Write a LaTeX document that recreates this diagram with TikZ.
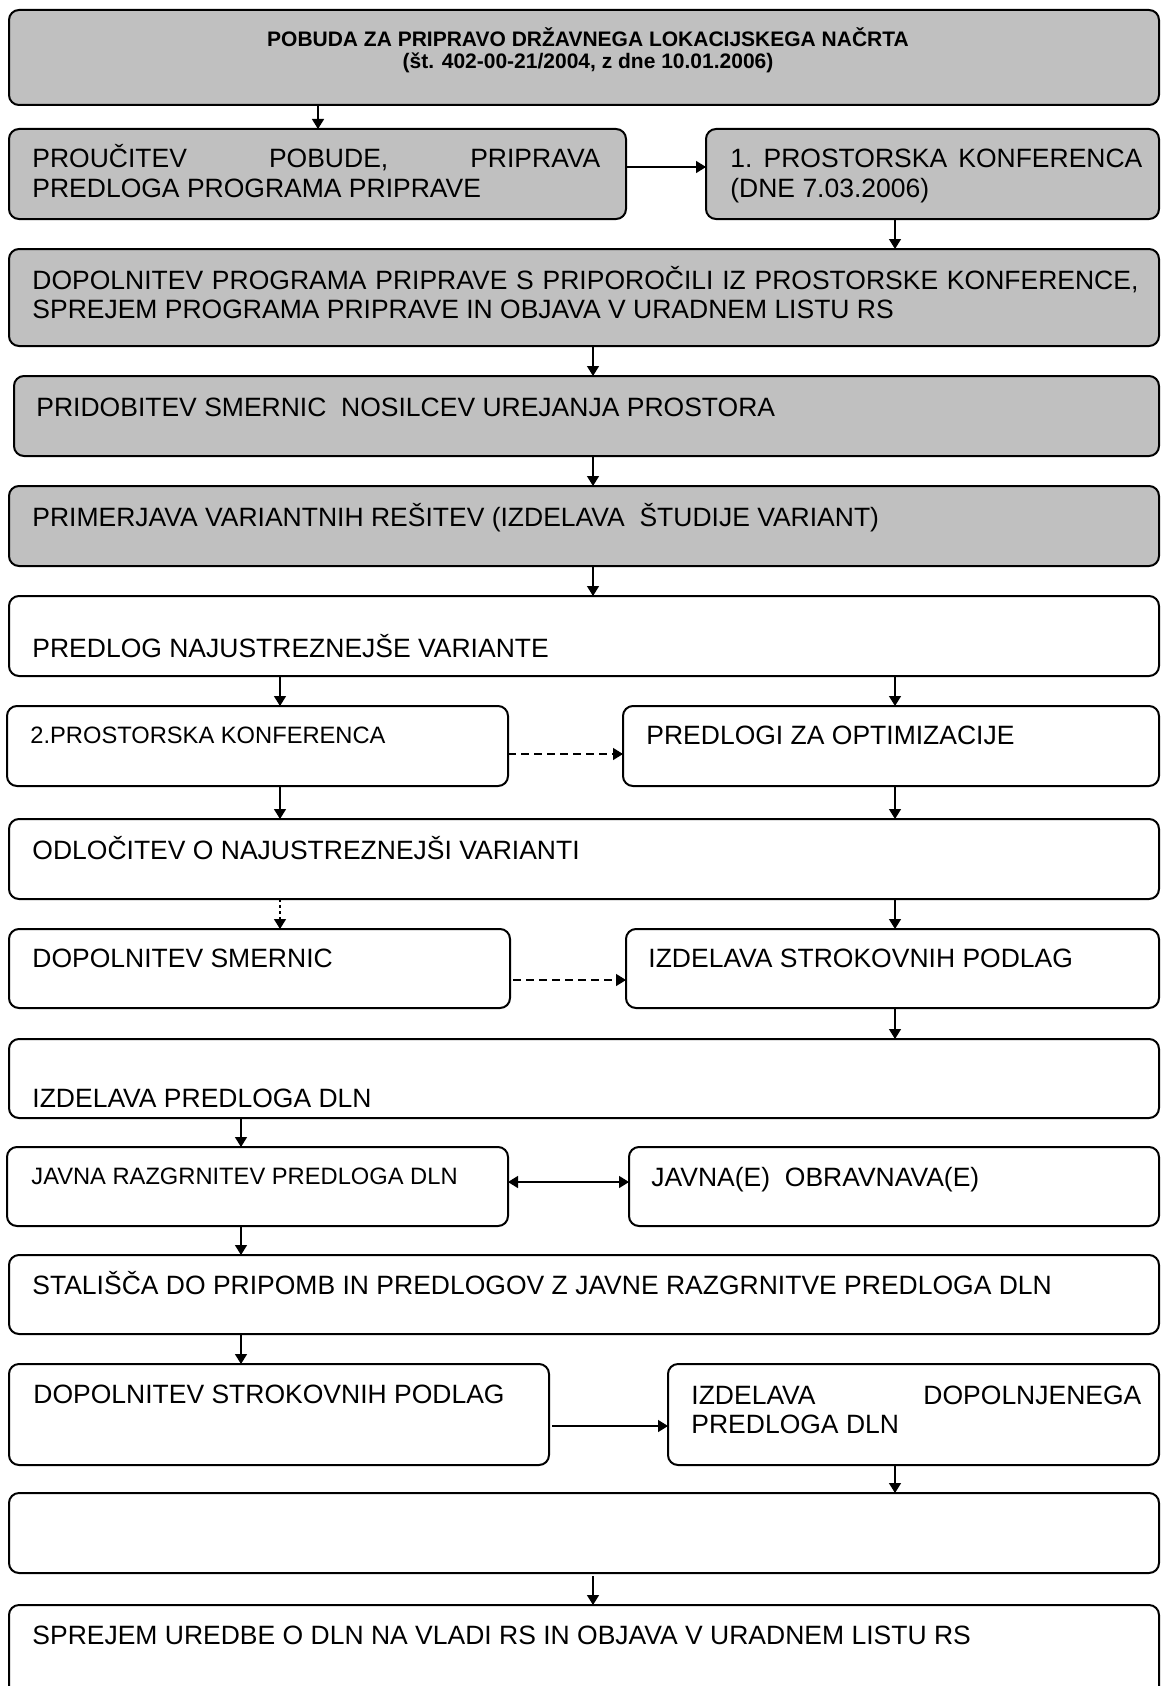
\documentclass[tikz,border=0pt]{standalone}
\usepackage{fontspec}
\setmainfont{Liberation Sans}
\usetikzlibrary{arrows.meta,fit}
\newcommand\twoln[2]{\vtop{\hbox{#1}\hbox{#2}}}
\definecolor{boxgray}{HTML}{C0C0C0}
\tikzset{
  box/.style={draw=black, line width=1pt, rounded corners=5pt, inner sep=0pt, outer sep=0pt},
  gbox/.style={box, fill=boxgray},
  wbox/.style={box, fill=white},
  txt/.style={anchor=base west, inner sep=0pt, font=\fontsize{13.25pt}{14.75pt}\selectfont},
  smalltxt/.style={anchor=base west, inner sep=0pt, font=\fontsize{11.85pt}{13.5pt}\selectfont},
  titletxt/.style={anchor=base, inner sep=0pt, font=\bfseries\fontsize{10.5pt}{10.5pt}\selectfont},
  arr/.style={line width=0.7pt, -{Triangle[length=5pt,width=6pt]}},
  darr/.style={line width=0.7pt, {Triangle[length=5pt,width=6pt]}-{Triangle[length=5pt,width=6pt]}},
  dasharr/.style={arr, dash pattern=on 4pt off 2.5pt},
  dotarr/.style={arr, dash pattern=on 1.5pt off 1.5pt}
}
\begin{document}
\begin{tikzpicture}[x=0.5pt,y=-0.5pt]
\useasboundingbox (0,0) rectangle (1161,1686);
\clip (0,0) rectangle (1161,1686);
% boxes
\node[gbox, fit={(9,10) (1159,105)}] (b1) {};
\node[gbox, fit={(9,129) (626,219)}] (b2) {};
\node[gbox, fit={(706,129) (1159,219)}] (b3) {};
\node[gbox, fit={(9,249) (1159,346)}] (b4) {};
\node[gbox, fit={(14,376) (1159,456)}] (b5) {};
\node[gbox, fit={(9,486) (1159,566)}] (b6) {};
\node[wbox, fit={(9,596) (1159,676)}] (b7) {};
\node[wbox, fit={(7,706) (508,786)}] (b8) {};
\node[wbox, fit={(623,706) (1159,786)}] (b9) {};
\node[wbox, fit={(9,819) (1159,899)}] (b10) {};
\node[wbox, fit={(9,929) (510,1008)}] (b11) {};
\node[wbox, fit={(626,929) (1159,1008)}] (b12) {};
\node[wbox, fit={(9,1039) (1159,1118)}] (b13) {};
\node[wbox, fit={(7,1147) (508,1226)}] (b14) {};
\node[wbox, fit={(629,1147) (1159,1226)}] (b15) {};
\node[wbox, fit={(9,1255) (1159,1334)}] (b16) {};
\node[wbox, fit={(9,1364) (549,1465)}] (b17) {};
\node[wbox, fit={(668,1364) (1159,1465)}] (b18) {};
\node[wbox, fit={(9,1493) (1159,1573)}] (b19) {};
\node[wbox, fit={(9,1605) (1159,1730)}] (b20) {};
% texts
\node[titletxt] (t1) at (588,47) {\vtop{\hbox to 0pt{\hss POBUDA ZA PRIPRAVO DRŽAVNEGA LOKACIJSKEGA NAČRTA\hss}\hbox to 0pt{\hss (št. 402-00-21/2004, z dne 10.01.2006)\hss}}};
\node[txt] (t2) at (32,168) {\twoln{\hbox to 284pt{PROUČITEV\hfill POBUDE,\hfill PRIPRAVA}}{PREDLOGA PROGRAMA PRIPRAVE}};
\node[txt] (t3) at (730,168) {\twoln{\hbox to 206pt{1.\hfil\ PROSTORSKA\hfil\ KONFERENCA}}{(DNE 7.03.2006)}};
\node[txt] (t4) at (32,289) {\twoln{\hbox to 553pt{DOPOLNITEV\hfil\ PROGRAMA\hfil\ PRIPRAVE\hfil\ S\hfil\ PRIPOROČILI\hfil\ IZ\hfil\ PROSTORSKE\hfil\ KONFERENCE,}}{SPREJEM PROGRAMA PRIPRAVE IN OBJAVA V URADNEM LISTU RS}};
\node[txt] (t5) at (36,416) {PRIDOBITEV SMERNIC\ \ NOSILCEV UREJANJA PROSTORA};
\node[txt] (t6) at (32,526) {PRIMERJAVA VARIANTNIH REŠITEV (IZDELAVA\ \ ŠTUDIJE VARIANT)};
\node[txt] (t7) at (32,657) {PREDLOG NAJUSTREZNEJŠE VARIANTE};
\node[smalltxt] (t8) at (30,743) {2.PROSTORSKA KONFERENCA};
\node[txt] (t9) at (646,744) {PREDLOGI ZA OPTIMIZACIJE};
\node[txt] (t10) at (32,859) {ODLOČITEV O NAJUSTREZNEJŠI VARIANTI};
\node[txt] (t11) at (32,967) {DOPOLNITEV SMERNIC};
\node[txt] (t12) at (648,967) {IZDELAVA STROKOVNIH PODLAG};
\node[txt] (t13) at (32,1107) {IZDELAVA PREDLOGA DLN};
\node[smalltxt] (t14) at (31,1184) {JAVNA RAZGRNITEV PREDLOGA DLN};
\node[txt] (t15) at (651,1186) {JAVNA(E)\ \ OBRAVNAVA(E)};
\node[txt] (t16) at (32,1294) {STALIŠČA DO PRIPOMB IN PREDLOGOV Z JAVNE RAZGRNITVE PREDLOGA DLN};
\node[txt] (t17) at (33,1403) {DOPOLNITEV STROKOVNIH PODLAG};
\node[txt] (t18) at (691,1404) {\twoln{\hbox to 225pt{IZDELAVA\hfill DOPOLNJENEGA}}{PREDLOGA DLN}};
\node[txt] (t20) at (32,1644) {SPREJEM UREDBE O DLN NA VLADI RS IN OBJAVA V URADNEM LISTU RS};
% connector columns / rows
\coordinate (xa) at (318,0);
\coordinate (xb) at (895,0);
\coordinate (xc) at (593,0);
\coordinate (xd) at (280,0);
\coordinate (xe) at (241,0);
\coordinate (ya) at (0,167);
\coordinate (yb) at (0,754);
\coordinate (yc) at (0,980);
\coordinate (yd) at (0,1182);
\coordinate (ye) at (0,1426);
% vertical connectors
\draw[arr] (xa |- b1.south) -- (xa |- b2.north);
\draw[arr] (xb |- b3.south) -- (xb |- b4.north);
\draw[arr] (xc |- b4.south) -- (xc |- b5.north);
\draw[arr] (xc |- b5.south) -- (xc |- b6.north);
\draw[arr] (xc |- b6.south) -- (xc |- b7.north);
\draw[arr] (xd |- b7.south) -- (xd |- b8.north);
\draw[arr] (xb |- b7.south) -- (xb |- b9.north);
\draw[arr] (xd |- b8.south) -- (xd |- b10.north);
\draw[arr] (xb |- b9.south) -- (xb |- b10.north);
\draw[dotarr] (xd |- b10.south) -- (xd |- b11.north);
\draw[arr] (xb |- b10.south) -- (xb |- b12.north);
\draw[arr] (xb |- b12.south) -- (xb |- b13.north);
\draw[arr] (xe |- b13.south) -- (xe |- b14.north);
\draw[arr] (xe |- b14.south) -- (xe |- b16.north);
\draw[arr] (xe |- b16.south) -- (xe |- b17.north);
\draw[arr] (xb |- b18.south) -- (xb |- b19.north);
\draw[arr] ([yshift=-1.5pt]xc |- b19.south) -- (xc |- b20.north);
% horizontal connectors
\draw[arr] (b2.east |- ya) -- (b3.west |- ya);
\draw[dasharr] (b8.east |- yb) -- (b9.west |- yb);
\draw[dasharr] ([xshift=1.5pt]b11.east |- yc) -- (b12.west |- yc);
\draw[darr] (b14.east |- yd) -- (b15.west |- yd);
\draw[arr] ([xshift=1.5pt]b17.east |- ye) -- (b18.west |- ye);
\end{tikzpicture}
\end{document}
